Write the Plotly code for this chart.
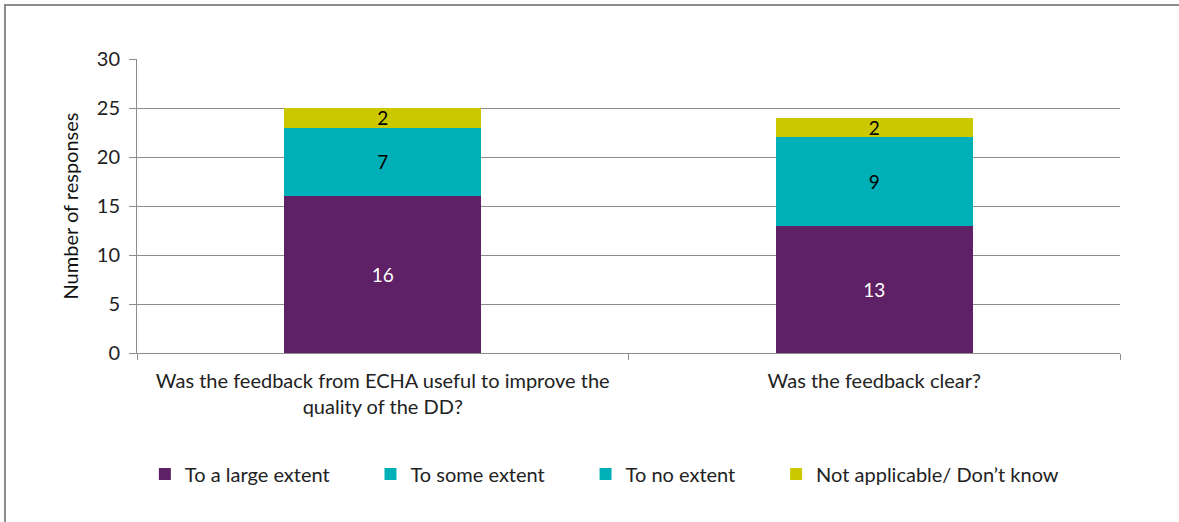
import plotly.graph_objects as go

categories = [
    "Was the feedback from ECHA useful to improve the<br>quality of the DD?",
    "Was the feedback clear?",
]
large_extent = [16, 13]
some_extent = [7, 9]
no_extent = [0, 0]
not_applicable = [2, 2]

# trailing no-break spaces widen the gap between legend entries
pad = "\u00a0" * 7
series = [
    ("To a large extent" + pad, large_extent, "#5F2165", "white"),
    ("To some extent" + pad, some_extent, "#00B0B9", "black"),
    ("To no extent" + pad, no_extent, "#00B0B9", "black"),
    ("Not applicable/ Don\u2019t know", not_applicable, "#CCC800", "black"),
]

font_family = "Lato, 'Open Sans', sans-serif"
text_color = "#222"

fig = go.Figure()
for name, vals, color, tcolor in series:
    fig.add_trace(go.Bar(
        name=name,
        x=categories,
        y=vals,
        marker=dict(color=color, line=dict(width=0)),
        text=[str(v) if v else "" for v in vals],
        textposition="inside",
        insidetextanchor="middle",
        textangle=0,
        constraintext="none",
        textfont=dict(color=tcolor, size=19, family=font_family),
        width=0.4,
    ))

fig.update_layout(
    barmode="stack",
    width=1179,
    height=522,
    margin=dict(l=137, r=59, t=59, b=169),
    paper_bgcolor="white",
    plot_bgcolor="white",
    font=dict(family=font_family, size=20, color=text_color),
    showlegend=True,
    legend=dict(
        orientation="h",
        x=0.008,
        xanchor="left",
        y=-0.345,
        yanchor="top",
        font=dict(size=20, family=font_family, color=text_color),
        traceorder="normal",
        itemwidth=30,
    ),
    shapes=[
        dict(type="rect", xref="paper", yref="paper",
             x0=-0.1343, x1=1.1, y0=-0.7, y1=1.1837,
             line=dict(color="#8c8c8c", width=2), fillcolor="rgba(0,0,0,0)",
             layer="below"),
    ],
)

fig.update_xaxes(
    showline=True, linecolor="#8c8c8c", linewidth=1,
    ticks="outside", tickson="boundaries", ticklen=6, tickcolor="#8c8c8c",
    tickfont=dict(size=20, family=font_family, color=text_color),
    ticklabelstandoff=10,
    showgrid=False,
)
fig.update_yaxes(
    range=[0, 30], dtick=5,
    showline=True, linecolor="#8c8c8c", linewidth=1,
    ticks="outside", ticklen=7, tickcolor="#8c8c8c",
    showgrid=True, gridcolor="#8c8c8c", gridwidth=1,
    tickfont=dict(size=20, family=font_family, color=text_color),
    ticklabelstandoff=5,
    title=dict(text="Number of responses", font=dict(size=20, family=font_family, color="#111"), standoff=12),
    zeroline=False,
)

fig.write_html("out.html")
